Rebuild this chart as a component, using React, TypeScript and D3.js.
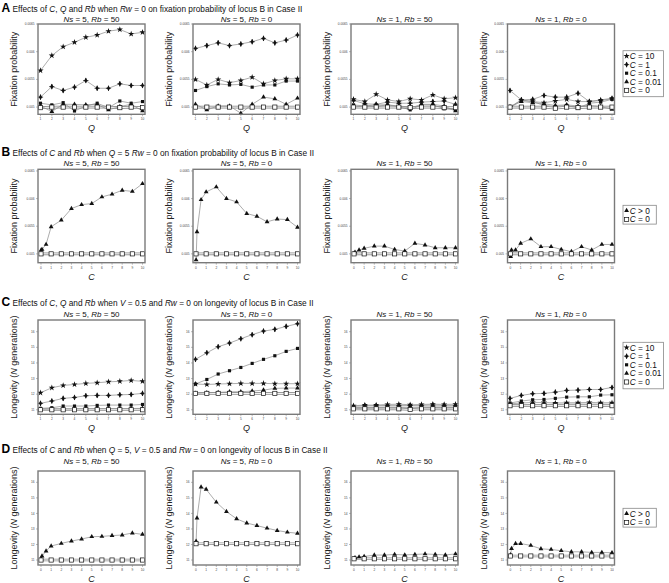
import React from 'react';
import * as d3 from 'd3';

// ---------------- data ----------------
const qValues = [1, 2, 3, 4, 5, 6, 7, 8, 9, 10];
const cPositive = [0.01, 0.1, 0.5, 1, 2, 3, 4, 5, 6, 7, 8, 9, 10];
const cZeroPositions = [0, 1, 2, 3, 4, 5, 6, 7, 8, 9, 10];
const qTicks = [1, 2, 3, 4, 5, 6, 7, 8, 9, 10];
const cTicks = [0, 1, 2, 3, 4, 5, 6, 7, 8, 9, 10];
const fixTicks = [0.005, 0.0055, 0.006, 0.0065];
const fixTickLabels = ['0.005', '0.0055', '0.006', '0.0065'];
const lonTicks = [11, 12, 13, 14, 15, 16];
const lonTickLabels = ['11', '12', '13', '14', '15', '16'];
const panelSubtitles = [
  ['5', '50'],
  ['5', '0'],
  ['1', '50'],
  ['1', '0'],
];
const legendQLabels = ['10', '1', '0.1', '0.01', '0'];
const legendCLabels = ['> 0', '= 0'];

// Row A: fixation probability vs Q
const fixA1_C10 = [0.00566, 0.00593, 0.00609, 0.00617, 0.00626, 0.0063, 0.00637, 0.0064, 0.00632, 0.00635];
const fixA1_C1 = [0.00518, 0.00537, 0.0053, 0.00536, 0.00548, 0.00534, 0.00534, 0.00542, 0.00539, 0.00539];
const fixA1_C01 = [0.00507, 0.00504, 0.00508, 0.00493, 0.00502, 0.00507, 0.00499, 0.00511, 0.00507, 0.0051];
const fixA1_C001 = [0.00502, 0.00492, 0.00505, 0.00505, 0.00504, 0.00505, 0.00495, 0.00501, 0.00505, 0.00493];
const fixA1_C0 = [0.00499, 0.005, 0.005, 0.005, 0.005, 0.005, 0.005, 0.00499, 0.005, 0.00499];

const fixA2_C10 = [0.0055, 0.0054, 0.0055, 0.00544, 0.00548, 0.00554, 0.00542, 0.00548, 0.00551, 0.00551];
const fixA2_C1 = [0.00606, 0.00611, 0.00616, 0.00611, 0.00614, 0.00618, 0.00624, 0.00616, 0.00621, 0.0063];
const fixA2_C01 = [0.0053, 0.00537, 0.00542, 0.0054, 0.00541, 0.00536, 0.0054, 0.0054, 0.00547, 0.00547];
const fixA2_C001 = [0.00505, 0.00495, 0.00502, 0.00502, 0.00489, 0.00505, 0.00518, 0.00515, 0.00505, 0.00516];
const fixA2_C0 = [0.005, 0.005, 0.005, 0.005, 0.005, 0.005, 0.005, 0.005, 0.005, 0.005];

const fixA3_C10 = [0.00514, 0.0051, 0.00523, 0.00513, 0.0051, 0.00515, 0.00513, 0.00522, 0.00515, 0.00517];
const fixA3_C1 = [0.00512, 0.00506, 0.00505, 0.00509, 0.00507, 0.00507, 0.00509, 0.0051, 0.00511, 0.00505];
const fixA3_C01 = [0.00504, 0.00502, 0.00504, 0.00504, 0.00501, 0.00495, 0.00504, 0.00504, 0.00497, 0.00495];
const fixA3_C001 = [0.005, 0.00502, 0.00501, 0.00504, 0.00502, 0.00498, 0.00505, 0.00505, 0.00502, 0.00493];
const fixA3_C0 = [0.005, 0.005, 0.005, 0.005, 0.005, 0.00499, 0.005, 0.005, 0.00499, 0.00499];

const fixA4_C10 = [0.005, 0.00513, 0.0051, 0.00508, 0.00511, 0.00514, 0.0051, 0.0051, 0.00513, 0.00516];
const fixA4_C1 = [0.0053, 0.00513, 0.00514, 0.00521, 0.00518, 0.00518, 0.00525, 0.0051, 0.00512, 0.00515];
const fixA4_C01 = [0.005, 0.00512, 0.0051, 0.00503, 0.00501, 0.00503, 0.00498, 0.00507, 0.00509, 0.00514];
const fixA4_C001 = [0.005, 0.0051, 0.00508, 0.00506, 0.00503, 0.00504, 0.00502, 0.00503, 0.00501, 0.00496];
const fixA4_C0 = [0.005, 0.005, 0.005, 0.005, 0.00498, 0.005, 0.00499, 0.005, 0.005, 0.005];

// Row B: fixation probability vs C (Q = 5)
const fixB1_Cpos = [0.00507, 0.00508, 0.00517, 0.00549, 0.00561, 0.00582, 0.00589, 0.00591, 0.00603, 0.00608, 0.00615, 0.00613, 0.00627];
const fixB2_Cpos = [0.00489, 0.0054, 0.00598, 0.00612, 0.00621, 0.006, 0.00594, 0.00573, 0.00568, 0.00558, 0.00563, 0.00562, 0.00548];
const fixB3_Cpos = [0.00501, 0.00503, 0.00507, 0.0051, 0.00514, 0.00514, 0.00508, 0.00505, 0.00519, 0.00516, 0.00511, 0.00511, 0.00511];
const fixB4_Cpos = [0.00495, 0.00507, 0.00507, 0.00519, 0.00527, 0.00513, 0.00513, 0.00508, 0.00504, 0.00513, 0.00507, 0.00517, 0.00517];
const fixB_C0 = [0.005, 0.005, 0.005, 0.005, 0.005, 0.005, 0.005, 0.005, 0.005, 0.005, 0.005];

// Row C: longevity vs Q
const lonC1_C10 = [12.09, 12.41, 12.56, 12.62, 12.69, 12.73, 12.79, 12.82, 12.88, 12.82];
const lonC1_C1 = [11.41, 11.56, 11.73, 11.79, 11.9, 11.92, 11.92, 11.96, 11.98, 12.05];
const lonC1_C01 = [11.09, 11.13, 11.24, 11.24, 11.24, 11.28, 11.3, 11.3, 11.3, 11.34];
const lonC1_C001 = [11.03, 11.05, 11.06, 11.06, 11.07, 11.07, 11.08, 11.08, 11.08, 11.09];
const lonC1_C0 = [11.0, 11.0, 11.0, 11.0, 11.0, 11.0, 11.0, 11.0, 11.0, 11.0];

const lonC2_C10 = [12.65, 12.62, 12.65, 12.67, 12.69, 12.69, 12.69, 12.67, 12.67, 12.67];
const lonC2_C1 = [14.23, 14.65, 15.04, 15.27, 15.55, 15.81, 16.04, 16.15, 16.34, 16.51];
const lonC2_C01 = [12.65, 12.94, 13.29, 13.5, 13.71, 13.97, 14.23, 14.46, 14.74, 14.93];
const lonC2_C001 = [12.05, 12.09, 12.11, 12.15, 12.15, 12.2, 12.26, 12.37, 12.39, 12.39];
const lonC2_C0 = [12.05, 12.05, 12.05, 12.05, 12.05, 12.05, 12.05, 12.05, 12.05, 12.05];

const lonC3_C10 = [11.26, 11.3, 11.3, 11.34, 11.36, 11.32, 11.34, 11.36, 11.34, 11.36];
const lonC3_C1 = [11.22, 11.26, 11.26, 11.28, 11.28, 11.27, 11.28, 11.3, 11.28, 11.28];
const lonC3_C01 = [11.15, 11.16, 11.16, 11.18, 11.17, 11.16, 11.18, 11.18, 11.18, 11.18];
const lonC3_C001 = [11.08, 11.1, 11.11, 11.12, 11.12, 11.1, 11.12, 11.13, 11.12, 11.13];
const lonC3_C0 = [11.06, 11.06, 11.06, 11.06, 11.06, 11.02, 11.06, 11.06, 11.06, 11.06];

const lonC4_C10 = [11.38, 11.43, 11.47, 11.47, 11.43, 11.45, 11.45, 11.47, 11.45, 11.45];
const lonC4_C1 = [11.73, 11.92, 12.03, 12.05, 12.13, 12.24, 12.26, 12.3, 12.3, 12.43];
const lonC4_C01 = [11.43, 11.56, 11.64, 11.66, 11.73, 11.81, 11.83, 11.83, 11.94, 11.96];
const lonC4_C001 = [11.34, 11.32, 11.34, 11.34, 11.34, 11.36, 11.36, 11.36, 11.36, 11.34];
const lonC4_C0 = [11.26, 11.26, 11.26, 11.26, 11.26, 11.26, 11.26, 11.26, 11.26, 11.26];

// Row D: longevity vs C (Q = 5)
const lonD1_Cpos = [11.08, 11.25, 11.58, 11.9, 12.07, 12.22, 12.35, 12.5, 12.52, 12.57, 12.61, 12.74, 12.65];
const lonD2_Cpos = [12.2, 13.7, 15.7, 15.55, 14.72, 14.12, 13.65, 13.38, 13.22, 13.05, 12.9, 12.79, 12.72];
const lonD3_Cpos = [11.1, 11.15, 11.2, 11.23, 11.32, 11.32, 11.36, 11.33, 11.36, 11.39, 11.36, 11.33, 11.39];
const lonD4_Cpos = [11.34, 11.74, 12.06, 12.06, 11.94, 11.72, 11.68, 11.6, 11.53, 11.53, 11.49, 11.49, 11.47];
const lonD1_C0 = [11.0, 11.0, 11.0, 11.0, 11.0, 11.0, 11.0, 11.0, 11.0, 11.0, 11.0];
const lonD2_C0 = [12.05, 12.05, 12.05, 12.05, 12.05, 12.05, 12.05, 12.05, 12.05, 12.05, 12.05];
const lonD3_C0 = [11.08, 11.08, 11.08, 11.08, 11.08, 11.08, 11.08, 11.08, 11.08, 11.08, 11.08];
const lonD4_C0 = [11.26, 11.26, 11.26, 11.26, 11.26, 11.26, 11.26, 11.26, 11.26, 11.26, 11.26];

// ---------------- layout ----------------
const FONT = "'Liberation Sans', Arial, Helvetica, sans-serif";
const colLefts = [38, 193, 351, 507.5];
const plotW = 107;

const starPath = d3.symbol().type(d3.symbolStar).size(12)()!;
const diamondPath = d3.symbol().type(d3.symbolDiamond).size(9)()!;
const squarePath = d3.symbol().type(d3.symbolSquare).size(10)()!;
const trianglePath = d3.symbol().type(d3.symbolTriangle).size(10)()!;

type Kind = 'star' | 'diamond' | 'square' | 'triangle' | 'open';

function Marker({ kind, x, y }: { kind: Kind; x: number; y: number }) {
  const t = `translate(${x},${y})`;
  if (kind === 'star') return <path d={starPath} transform={t} fill="#111" />;
  if (kind === 'diamond')
    return (
      <g transform={t}>
        <path d={diamondPath} fill="#111" />
        <path d="M-2.6,0H2.6M0,-2.6V2.6" stroke="#111" strokeWidth={0.8} />
      </g>
    );
  if (kind === 'square') return <path d={squarePath} transform={t} fill="#111" />;
  if (kind === 'triangle') return <path d={trianglePath} transform={t} fill="#111" />;
  return <rect x={x - 2.1} y={y - 2.1} width={4.2} height={4.2} fill="#fff" stroke="#111" strokeWidth={0.7} />;
}

type Series = { xs: number[]; ys: number[]; kind: Kind };

function Panel(props: {
  left: number;
  top: number;
  height: number;
  subY: number;
  xDomain: [number, number];
  padL: number;
  xTicks: number[];
  yDomain: [number, number];
  yTicks: number[];
  yTickLabels: string[];
  series: Series[];
  zero: Series;
  sub: string[];
  xLabel: string;
  yLabel: React.ReactNode;
}) {
  const { left, top, height, subY, xDomain, padL, xTicks, yDomain, yTicks, yTickLabels, series, zero, sub, xLabel, yLabel } =
    props;
  const x = d3.scaleLinear().domain(xDomain).range([left + padL, left + plotW - 2.5]);
  const y = d3.scaleLinear().domain(yDomain).range([top + height, top]);
  const line = (s: Series) =>
    d3
      .line<number>()
      .x((_, i) => x(s.xs[i]))
      .y((v) => y(v))(s.ys)!;
  const bottom = top + height;
  const cx = left + plotW / 2;
  return (
    <g>
      <text x={cx} y={subY} fontSize={8} textAnchor="middle" fill="#111">
        <tspan fontStyle="italic">Ns</tspan> = {sub[0]}, <tspan fontStyle="italic">Rb</tspan> = {sub[1]}
      </text>
      <text
        transform={`translate(${left - 21},${top + height / 2}) rotate(-90)`}
        fontSize={9}
        textAnchor="middle"
        fill="#222"
      >
        {yLabel}
      </text>
      <g opacity={0.99}>
        {yTicks.map((t, i) => (
          <g key={'y' + i}>
            <line x1={left - 2} x2={left} y1={y(t)} y2={y(t)} stroke="#777" strokeWidth={0.5} />
            <text x={left - 3.5} y={y(t) + 1.1} fontSize={3.2} textAnchor="end" fill="#444">
              {yTickLabels[i]}
            </text>
          </g>
        ))}
        {xTicks.map((t, i) => (
          <g key={'x' + i}>
            <line x1={x(t)} x2={x(t)} y1={bottom} y2={bottom + 2} stroke="#777" strokeWidth={0.5} />
            <text x={x(t)} y={bottom + 6} fontSize={3.2} textAnchor="middle" fill="#444">
              {String(t)}
            </text>
          </g>
        ))}
      </g>
      <text x={cx} y={bottom + 17} fontSize={9} fontStyle="italic" textAnchor="middle" fill="#222">
        {xLabel}
      </text>
      <path d={line(zero)} fill="none" stroke="#8c8c8c" strokeWidth={2.6} />
      <path d={line(zero)} fill="none" stroke="#fff" strokeWidth={1} />
      {series.map((s, i) => (
        <path key={'l' + i} d={line(s)} fill="none" stroke="#8a8a8a" strokeWidth={0.7} />
      ))}
      {series.map((s, i) =>
        s.ys.map((v, j) => <Marker key={'m' + i + '-' + j} kind={s.kind} x={x(s.xs[j])} y={y(v)} />)
      )}
      {zero.ys.map((v, j) => (
        <Marker key={'z' + j} kind="open" x={x(zero.xs[j])} y={y(v)} />
      ))}
      <rect x={left} y={top} width={plotW} height={height} fill="none" stroke="#7a7a7a" strokeWidth={1.4} />
    </g>
  );
}

function Legend({
  x,
  y,
  w,
  h,
  rowH,
  fs,
  items,
}: {
  x: number;
  y: number;
  w: number;
  h: number;
  rowH: number;
  fs: number;
  items: { kind: Kind; label: string }[];
}) {
  return (
    <g>
      <rect x={x} y={y} width={w} height={h} fill="#fff" stroke="#888" strokeWidth={0.8} />
      {items.map((it, i) => {
        const cy = y + 5.3 + i * rowH;
        return (
          <g key={i}>
            <Marker kind={it.kind} x={x + 3.6} y={cy} />
            <text x={x + 6.8} y={cy + 2.9} fontSize={fs} fill="#111">
              <tspan fontStyle="italic">C</tspan> {it.label}
            </text>
          </g>
        );
      })}
    </g>
  );
}

function RowTitle({ y, letter, children }: { y: number; letter: string; children: React.ReactNode }) {
  return (
    <g>
      <text x={1.5} y={y} fontSize={12} fontWeight="bold" fill="#000">
        {letter}
      </text>
      <text x={12.5} y={y} fontSize={8.3} fill="#111">
        {children}
      </text>
    </g>
  );
}

const I = ({ children }: { children: React.ReactNode }) => <tspan fontStyle="italic">{children}</tspan>;

export default function App() {
  const fixLabel = 'Fixation probability';
  const lonLabel = (
    <>
      Longevity (<tspan fontStyle="italic">N</tspan> generations)
    </>
  );
  const qSeries = (c001: number[], c01: number[], c1: number[], c10: number[]): Series[] => [
    { xs: qValues, ys: c001, kind: 'triangle' },
    { xs: qValues, ys: c01, kind: 'square' },
    { xs: qValues, ys: c1, kind: 'diamond' },
    { xs: qValues, ys: c10, kind: 'star' },
  ];
  const rowA = [
    { s: qSeries(fixA1_C001, fixA1_C01, fixA1_C1, fixA1_C10), z: fixA1_C0 },
    { s: qSeries(fixA2_C001, fixA2_C01, fixA2_C1, fixA2_C10), z: fixA2_C0 },
    { s: qSeries(fixA3_C001, fixA3_C01, fixA3_C1, fixA3_C10), z: fixA3_C0 },
    { s: qSeries(fixA4_C001, fixA4_C01, fixA4_C1, fixA4_C10), z: fixA4_C0 },
  ];
  const rowB = [fixB1_Cpos, fixB2_Cpos, fixB3_Cpos, fixB4_Cpos];
  const rowC = [
    { s: qSeries(lonC1_C001, lonC1_C01, lonC1_C1, lonC1_C10), z: lonC1_C0 },
    { s: qSeries(lonC2_C001, lonC2_C01, lonC2_C1, lonC2_C10), z: lonC2_C0 },
    { s: qSeries(lonC3_C001, lonC3_C01, lonC3_C1, lonC3_C10), z: lonC3_C0 },
    { s: qSeries(lonC4_C001, lonC4_C01, lonC4_C1, lonC4_C10), z: lonC4_C0 },
  ];
  const rowD = [
    { p: lonD1_Cpos, z: lonD1_C0 },
    { p: lonD2_Cpos, z: lonD2_C0 },
    { p: lonD3_Cpos, z: lonD3_C0 },
    { p: lonD4_Cpos, z: lonD4_C0 },
  ];
  const qKinds: Kind[] = ['star', 'diamond', 'square', 'triangle', 'open'];
  const legendQ = legendQLabels.map((l, i) => ({ kind: qKinds[i], label: '= ' + l }));
  const legendC = legendCLabels.map((l, i) => ({ kind: (i === 0 ? 'triangle' : 'open') as Kind, label: l }));

  return (
    <svg
      width={669}
      height={583}
      viewBox="0 0 669 583"
      style={{ position: 'absolute', left: 0, top: 0, background: '#fff' }}
      fontFamily={FONT}
    >
      <rect width={669} height={583} fill="#fff" />
      <RowTitle y={12.2} letter="A">
        Effects of <I>C</I>, <I>Q</I> and <I>Rb</I> when <I>Rw</I> = 0 on fixation probability of locus B in Case II
      </RowTitle>
      <RowTitle y={156} letter="B">
        Effects of <I>C</I> and <I>Rb</I> when <I>Q</I> = 5 <I>Rw</I> = 0 on fixation probability of locus B in Case II
      </RowTitle>
      <RowTitle y={305.5} letter="C">
        Effects of <I>C</I>, <I>Q</I> and <I>Rb</I> when <I>V</I> = 0.5 and <I>Rw</I> = 0 on longevity of locus B in Case II
      </RowTitle>
      <RowTitle y={453} letter="D">
        Effects of <I>C</I> and <I>Rb</I> when <I>Q</I> = 5, <I>V</I> = 0.5 and <I>Rw</I> = 0 on longevity of locus B in Case II
      </RowTitle>

      {rowA.map((p, i) => (
        <Panel
          key={'A' + i}
          left={colLefts[i]}
          top={24}
          height={90.3}
          subY={21.5}
          xDomain={[1, 10]}
          padL={2.5}
          xTicks={qTicks}
          yDomain={[0.00487, 0.0065]}
          yTicks={fixTicks}
          yTickLabels={fixTickLabels}
          series={p.s}
          zero={{ xs: qValues, ys: p.z, kind: 'open' }}
          sub={panelSubtitles[i]}
          xLabel="Q"
          yLabel={fixLabel}
        />
      ))}
      {rowB.map((p, i) => (
        <Panel
          key={'B' + i}
          left={colLefts[i]}
          top={169.3}
          height={93.4}
          subY={165.6}
          xDomain={[0, 10]}
          padL={3}
          xTicks={cTicks}
          yDomain={[0.00484, 0.00653]}
          yTicks={fixTicks}
          yTickLabels={fixTickLabels}
          series={[{ xs: cPositive, ys: p, kind: 'triangle' }]}
          zero={{ xs: cZeroPositions, ys: fixB_C0, kind: 'open' }}
          sub={panelSubtitles[i]}
          xLabel="C"
          yLabel={fixLabel}
        />
      ))}
      {rowC.map((p, i) => (
        <Panel
          key={'C' + i}
          left={colLefts[i]}
          top={320}
          height={94.3}
          subY={317}
          xDomain={[1, 10]}
          padL={2.5}
          xTicks={qTicks}
          yDomain={[10.71, 16.75]}
          yTicks={lonTicks}
          yTickLabels={lonTickLabels}
          series={p.s}
          zero={{ xs: qValues, ys: p.z, kind: 'open' }}
          sub={panelSubtitles[i]}
          xLabel="Q"
          yLabel={lonLabel}
        />
      ))}
      {rowD.map((p, i) => (
        <Panel
          key={'D' + i}
          left={colLefts[i]}
          top={471}
          height={94}
          subY={463.6}
          xDomain={[0, 10]}
          padL={3}
          xTicks={cTicks}
          yDomain={[10.68, 16.73]}
          yTicks={lonTicks}
          yTickLabels={lonTickLabels}
          series={[{ xs: cPositive, ys: p.p, kind: 'triangle' }]}
          zero={{ xs: cZeroPositions, ys: p.z, kind: 'open' }}
          sub={panelSubtitles[i]}
          xLabel="C"
          yLabel={lonLabel}
        />
      ))}

      <Legend x={623} y={50.7} w={40.5} h={46} rowH={8.6} fs={8.3} items={legendQ} />
      <Legend x={623} y={205.3} w={33.3} h={18.8} rowH={8.9} fs={8.3} items={legendC} />
      <Legend x={623} y={342.3} w={40.5} h={46.5} rowH={8.6} fs={8.3} items={legendQ} />
      <Legend x={623} y={508.3} w={33.3} h={18.8} rowH={8.9} fs={8.3} items={legendC} />
    </svg>
  );
}
